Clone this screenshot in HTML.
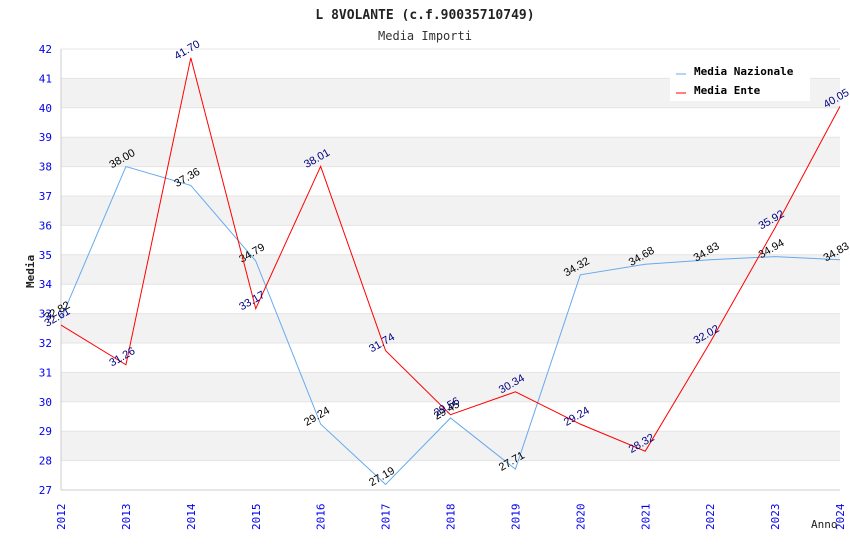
<!DOCTYPE html>
<html><head><meta charset="utf-8"><style>
body{margin:0;background:#fff;width:850px;height:550px;overflow:hidden}
svg{font-family:"DejaVu Sans Mono","Liberation Mono",monospace}
</style></head><body>
<svg id="c" width="850" height="550"></svg>
<script>
const years=[2012,2013,2014,2015,2016,2017,2018,2019,2020,2021,2022,2023,2024];
const nazionale=[32.82,38.00,37.36,34.79,29.24,27.19,29.45,27.71,34.32,34.68,34.83,34.94,34.83];
const ente=[32.61,31.26,41.70,33.17,38.01,31.74,29.56,30.34,29.24,28.32,32.02,35.92,40.05];
const yTicks=[27,28,29,30,31,32,33,34,35,36,37,38,39,40,41,42];
const NS="http://www.w3.org/2000/svg";
const svg=document.getElementById('c');
const x0=61,x1=840,yTop=49,yBot=490,yMin=27,yMax=42;
const X=i=>x0+(x1-x0)*i/(years.length-1);
const Y=v=>yBot-(v-yMin)/(yMax-yMin)*(yBot-yTop);
function el(t,a,p){const e=document.createElementNS(NS,t);for(const k in a)e.setAttribute(k,a[k]);(p||svg).appendChild(e);return e;}
// bands
yTicks.forEach(v=>{if(v<yMax&&v%2===0){const b=el('rect',{x:x0,y:Y(v+1),width:x1-x0,height:Y(v)-Y(v+1),fill:'#f2f2f2'});

}});
yTicks.forEach(v=>{const l=el('line',{x1:x0,x2:x1,y1:Y(v),y2:Y(v),stroke:'#e4e4e4','stroke-width':1});


const t=el('text',{x:52,y:Y(v)+4,'text-anchor':'end','font-size':11,fill:'#0000ee'});t.textContent=v;

});
el('line',{x1:x0,x2:x0,y1:yTop,y2:yBot,stroke:'#ccc'});
el('line',{x1:x0,x2:x1,y1:yBot,y2:yBot,stroke:'#ccc'});
years.forEach((y,i)=>{const t=el('text',{transform:`translate(${X(i)+4},${yBot+40}) rotate(-90)`,'font-size':11,fill:'#0000ee'});t.textContent=y;

});
function series(d,color,lc,name){
 const p=el('polyline',{points:d.map((v,i)=>X(i)+','+Y(v)).join(' '),fill:'none',stroke:color,'stroke-width':1});
 
 
 d.forEach((v,i)=>{const t=el('text',{transform:`translate(${X(i)-14},${Y(v)+2}) rotate(-30)`,'font-size':11,fill:lc,'font-family':'Liberation Sans, sans-serif'});t.textContent=v.toFixed(2);
 
 });
}
series(nazionale,'#66aaee','#000','nazionale');
series(ente,'#ff0000','#000080','ente');
const ti=el('text',{x:425,y:19,'text-anchor':'middle','font-size':13,'font-weight':'bold',fill:'#222'});ti.textContent='L 8VOLANTE (c.f.90035710749)';

const st=el('text',{x:425,y:40,'text-anchor':'middle','font-size':12,fill:'#333'});st.textContent='Media Importi';

const yt=el('text',{transform:'translate(34,288) rotate(-90)','font-size':11,'font-weight':'bold',fill:'#222'});yt.textContent='Media';

const xt=el('text',{x:811,y:528,'font-size':11,fill:'#222'});xt.textContent='Anno';

const lg=el('g',{});
el('rect',{x:670,y:60,width:140,height:41,fill:'#fff'},lg);
[['Media Nazionale','#66aaee'],['Media Ente','#ff0000']].forEach((e,i)=>{
 el('line',{x1:676,x2:686,y1:74+i*19,y2:74+i*19,stroke:e[1]},lg);
 const t=el('text',{x:694,y:75+i*19,'font-size':11,'font-weight':'bold',fill:'#000'},lg);t.textContent=e[0];
 });
</script>
</body></html>
